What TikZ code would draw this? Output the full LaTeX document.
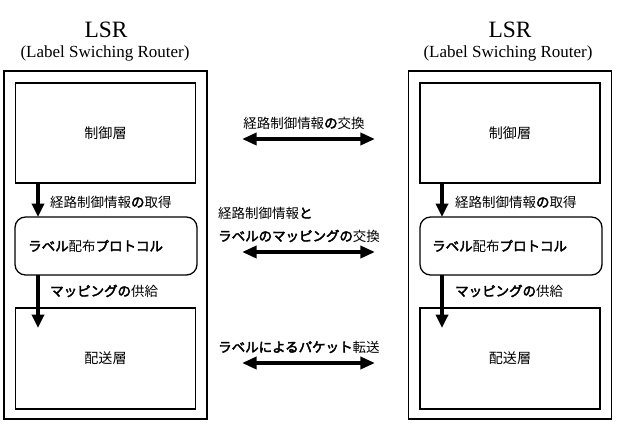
\documentclass[tikz,border=0pt]{standalone}
\usepackage{fontspec}
\setmainfont{Liberation Serif}
\newfontfamily\jp{Noto Sans CJK JP}
\newfontfamily\jpb[FakeBold=3]{Noto Sans CJK JP}
\newcommand{\kn}[1]{{\jpb #1}}
\usetikzlibrary{arrows.meta,positioning}

\begin{document}
\begin{tikzpicture}[x=0.03cm,y=-0.03cm,
  outer/.style={draw,line width=1.5pt,minimum width=6.09cm,minimum height=10.44cm},
  layer/.style={draw,line width=1.4pt,minimum width=5.4cm,minimum height=3.0cm,
                font=\jp\fontsize{12}{14}\selectfont},
  proto/.style={draw,line width=1.1pt,rounded corners=9pt,minimum width=5.46cm,minimum height=1.74cm},
  lbl/.style={anchor=west,inner sep=0pt,font=\jp\fontsize{11.5}{13}\selectfont},
  vup/.style={line width=3.2pt,-{Triangle[length=4mm,width=3.6mm]}},
  xch/.style={line width=3.2pt,{Triangle[length=4.4mm,width=3.6mm]}-{Triangle[length=4.4mm,width=3.6mm]}},
]
\useasboundingbox (0,0) rectangle (620,424);
% left LSR
\node[font=\fontsize{20}{22}\selectfont] (titL) at (106,30) {LSR};
\node[font=\fontsize{14.5}{16}\selectfont] (subL) at (105,53) {(Label Swiching Router)};
\node[outer] (outL) at (105.5,245) {};
\node[layer] (ctlL) at (105.5,133) {制御層};
\node[proto] (proL) at (106,246) {};
\node[lbl] (proLt) at (28,246) {\kn{ラベル}配布\kn{プロトコル}};
\node[layer,minimum height=3.03cm] (fwdL) at (105.5,358.5) {配送層};
\coordinate (aL1) at (38,183);
\coordinate (bL1) at (38,217);
\coordinate (aL2) at (38,275);
\coordinate (bL2) at (38,328);
\draw[vup] (aL1) -- (bL1);
\draw[vup] (aL2) -- (bL2);
\node[lbl] (getL) at (50,202) {経路制御情報\kn{の}取得};
\node[lbl] (supL) at (50,291) {\kn{マッピングの}供給};
% right LSR
\node[font=\fontsize{20}{22}\selectfont] (titR) at (510,30) {LSR};
\node[font=\fontsize{14.5}{16}\selectfont] (subR) at (508,53) {(Label Swiching Router)};
\node[outer] (outR) at (510,245) {};
\node[layer] (ctlR) at (510,133) {制御層};
\node[proto] (proR) at (511,246) {};
\node[lbl] (proRt) at (432,246) {\kn{ラベル}配布\kn{プロトコル}};
\node[layer,minimum height=3.03cm] (fwdR) at (510,358.5) {配送層};
\coordinate (aR1) at (442,183);
\coordinate (bR1) at (442,217);
\coordinate (aR2) at (442,275);
\coordinate (bR2) at (442,328);
\draw[vup] (aR1) -- (bR1);
\draw[vup] (aR2) -- (bR2);
\node[lbl] (getR) at (455,202) {経路制御情報\kn{の}取得};
\node[lbl] (supR) at (455,291) {\kn{マッピングの}供給};
% exchanges between the two routers
\node[lbl,anchor=center] (xt1) at (304,123) {経路制御情報\kn{の}交換};
\coordinate (xa1) at (242,139);
\coordinate (xb1) at (375,139);
\draw[xch] (xa1) -- (xb1);
\node[lbl] (xt2a) at (218,213) {経路制御情報\kn{と}};
\node[lbl] (xt2b) at (218,236) {\kn{ラベルのマッピングの}交換};
\coordinate (xa2) at (242,252);
\coordinate (xb2) at (375,252);
\draw[xch] (xa2) -- (xb2);
\node[lbl] (xt3) at (218,347) {\kn{ラベルによるパケット}転送};
\coordinate (xa3) at (242,363);
\coordinate (xb3) at (375,363);
\draw[xch] (xa3) -- (xb3);
\end{tikzpicture}
\end{document}
